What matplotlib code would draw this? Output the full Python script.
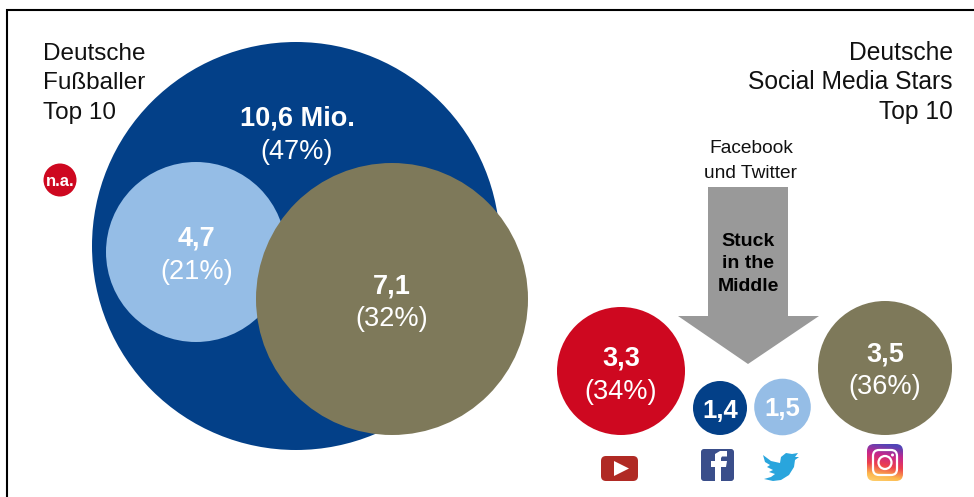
import matplotlib
matplotlib.use("Agg")
import matplotlib.pyplot as plt
import numpy as np
from matplotlib.patches import Circle, Polygon, FancyBboxPatch
from matplotlib.path import Path
from matplotlib.patches import PathPatch

plt.rcParams['font.family'] = ['Liberation Sans', 'DejaVu Sans']

# data
values = ["10,6 Mio.", "4,7", "7,1", "3,3", "1,4", "1,5", "3,5"]
shares = ["(47%)", "(21%)", "(32%)", "(34%)", None, None, "(36%)"]
left_title = ["Deutsche", "Fußballer", "Top 10"]
right_title = ["Deutsche", "Social Media Stars", "Top 10"]
arrow_top = "Facebook\nund Twitter"
arrow_text = "Stuck\nin the\nMiddle"
missing = "n.a."

# layout (pixels)
cx = [296, 196, 392, 621, 720, 782.5, 885]
cy = [246, 252, 299, 371, 408, 407, 368]
rad = [204, 90, 136, 64, 27, 28.3, 67]
colors = ["#034088", "#95BDE6", "#7E795A", "#CE0820", "#034088", "#95BDE6", "#7E795A"]
label_xy = [(297, 119), (197, 239), (392, 286), (621, 358), (720, 411), (782, 409), (885, 354)]
share_xy = [(297, 152), (197, 272), (392, 319), (621, 392), None, None, (885, 387)]
title_baselines = [60, 89, 119]

fig = plt.figure(figsize=(9.74, 4.97), dpi=100)
ax = fig.add_axes([0, 0, 1, 1])
ax.set_xlim(0, 974)
ax.set_ylim(497, 0)
ax.axis("off")

# frame
ax.plot([7, 7, 974], [497, 10, 10], color="black", lw=1.5, solid_joinstyle="miter")

for x, y, r, c in zip(cx, cy, rad, colors):
    ax.add_patch(Circle((x, y), r, fc=c, ec="none"))

for i, (v, s) in enumerate(zip(values, shares)):
    x, y = label_xy[i]
    ax.text(x, y, v, color="white", fontsize=18.5 if i in (4, 5) else 19.5, fontweight="bold",
            ha="center", va="center")
    if s:
        x, y = share_xy[i]
        ax.text(x, y, s, color="white", fontsize=19.5, ha="center", va="center")

# titles
for line_l, line_r, base in zip(left_title, right_title, title_baselines):
    ax.text(43, base, line_l, fontsize=17.5, ha="left", va="baseline", color="#111111")
    ax.text(953, base, line_r, fontsize=17.7, ha="right", va="baseline", color="#111111")

# n.a. marker
ax.add_patch(Circle((60, 180), 16.5, fc="#CE0820", ec="none"))
ax.text(60, 181.5, missing, color="white", fontsize=12, fontweight="bold", ha="center", va="center")

# arrow
ax.add_patch(Polygon([(708, 187), (788, 187), (788, 316), (819, 316), (748, 364), (678, 316), (708, 316)],
                     fc="#999999", ec="none"))
ax.text(748, 264, arrow_text, fontsize=14, fontweight="bold", ha="center", va="center",
        linespacing=1.45, color="black")
ax.text(751, 161, arrow_top, fontsize=13.8, ha="center", va="center", linespacing=1.55, color="#111111")

# YouTube icon
ax.add_patch(FancyBboxPatch((601, 456), 37, 25, boxstyle="round,pad=0,rounding_size=5",
                            fc="#B02A24", ec="none"))
ax.add_patch(Polygon([(614, 461), (614, 476), (629, 468.5)], fc="white", ec="none"))

# Facebook icon
ax.add_patch(FancyBboxPatch((701, 449), 33, 32, boxstyle="round,pad=0,rounding_size=3",
                            fc="#3A4E8A", ec="none"))
f_path = Path([(721, 481), (721, 467), (726, 467), (727, 461), (721, 461), (721, 458), (722, 456.5),
               (727, 456.5), (727, 451), (720, 451), (715, 454), (715, 461), (711, 461), (711, 467),
               (715, 467), (715, 481), (721, 481)])
ax.add_patch(PathPatch(f_path, fc="white", ec="none"))

# Twitter icon
bird = [(763, 455), (771, 461), (780, 463), (781, 457), (786, 453), (792, 454), (798, 453), (795, 457),
        (799, 457), (795, 460), (794, 467), (789, 475), (781, 480), (773, 481), (764, 479),
        (771, 477), (775, 474), (769, 472), (773, 470), (767, 467), (770, 465), (765, 462)]
ax.add_patch(Polygon(bird, fc="#29A5DD", ec="none"))

# Instagram icon
box = FancyBboxPatch((867, 444), 36, 37, boxstyle="round,pad=0,rounding_size=7", fc="none", ec="none")
ax.add_patch(box)
n = 64
yy, xx = np.mgrid[0:1:n*1j, 0:1:n*1j]
stops = np.array([[0.32, 0.27, 0.72], [0.78, 0.15, 0.55], [0.93, 0.25, 0.30], [0.99, 0.72, 0.30], [1.0, 0.86, 0.50]])
t = np.clip(yy * 0.85 + (0.5 - xx) * 0.15, 0, 1) * (len(stops) - 1)
lo = np.floor(t).astype(int).clip(0, len(stops) - 2)
frac = (t - lo)[..., None]
grad = stops[lo] * (1 - frac) + stops[lo + 1] * frac
im = ax.imshow(grad, extent=(867, 903, 481, 444), aspect="auto", zorder=2)
im.set_clip_path(box)
ax.set_xlim(0, 974)
ax.set_ylim(497, 0)
ax.add_patch(FancyBboxPatch((873, 450), 24, 25, boxstyle="round,pad=0,rounding_size=6",
                            fc="none", ec="white", lw=1.6, zorder=3))
ax.add_patch(Circle((885, 462.5), 6.5, fc="none", ec="white", lw=1.6, zorder=3))
ax.add_patch(Circle((892.5, 455), 1.5, fc="white", ec="none", zorder=3))

fig.savefig("out.png", dpi=100)
